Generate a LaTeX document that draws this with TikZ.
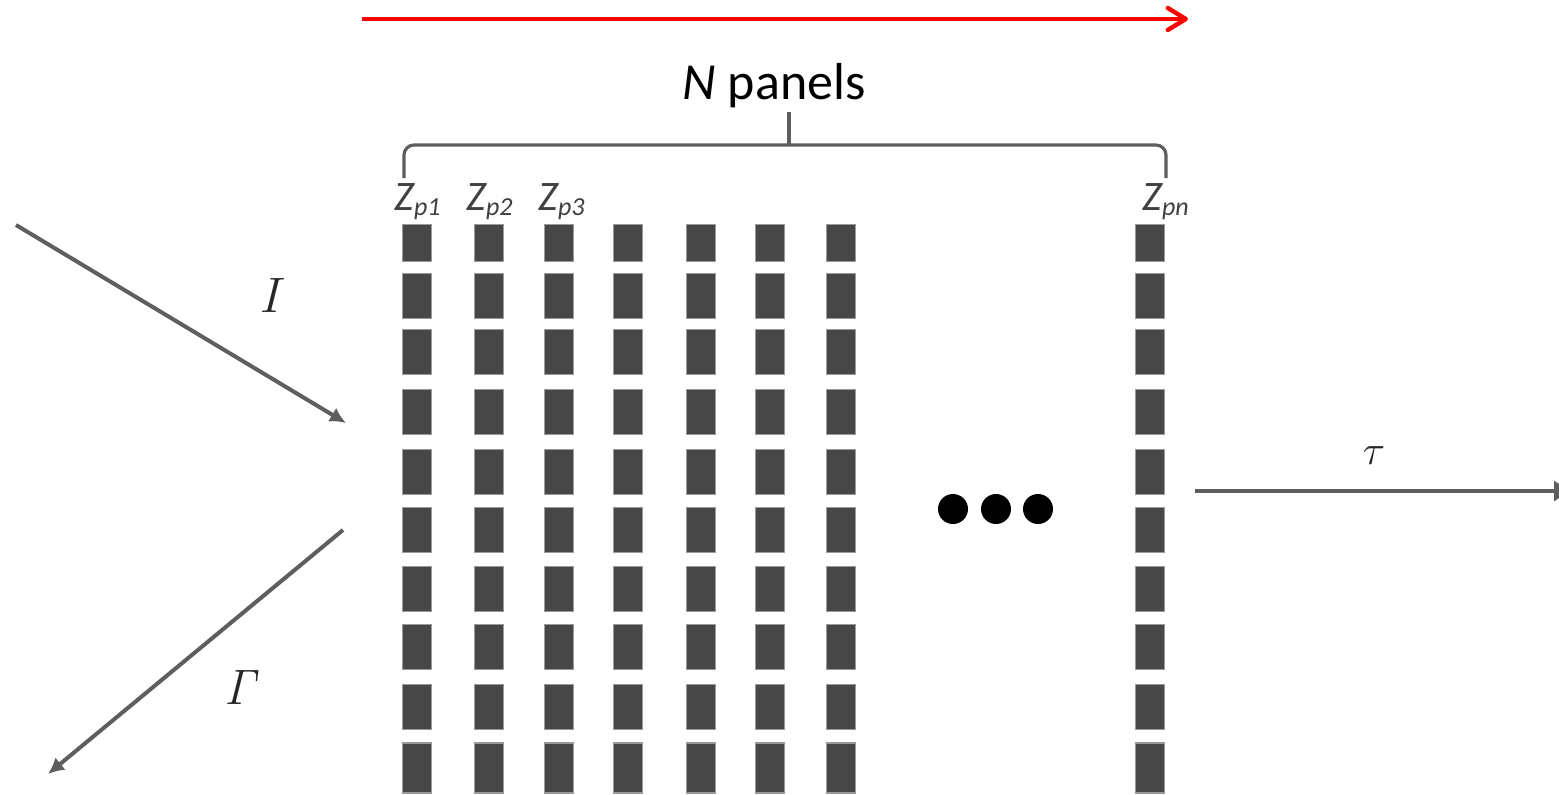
\documentclass[tikz,border=0pt]{standalone}
\usepackage[no-math]{fontspec}
\newfontfamily\calib{Carlito}
\usetikzlibrary{arrows.meta}
\definecolor{arrowgray}{HTML}{5E5E5E}
\definecolor{panelfill}{HTML}{474747}
\definecolor{paneledge}{HTML}{9A9A9A}
\begin{document}
\begin{tikzpicture}[x=0.5pt,y=-0.5pt,
  panel/.style={draw=paneledge, line width=0.9pt, fill=panelfill, minimum width=14.5pt, inner sep=0pt},
  grayarrow/.style={draw=arrowgray, line width=2pt, -{Latex[length=8pt,width=8pt]}},
  bracket/.style={draw=arrowgray, line width=1.6pt, rounded corners=5pt},
  zlabel/.style={anchor=base west, inner sep=0pt, text=black!75},
  dot/.style={circle, fill=black, minimum size=15pt, inner sep=0pt},
  mlabel/.style={inner sep=0pt, text=black!85}
]
\useasboundingbox (0,0) rectangle (1559,794);
\clip (0,0) rectangle (1559,794);

% panels
\foreach \c/\x in {1/417,2/489,3/559,4/628,5/701,6/770,7/841,n/1150}{
  \node[panel, minimum height=18.5pt] (p\c-1) at (\x,243) {};
  \foreach \r/\y in {2/296,3/352,4/412,5/472,6/530,7/589,8/647,9/707}{
    \node[panel, minimum height=22.5pt] (p\c-\r) at (\x,\y) {};
  }
  \node[panel, minimum height=25pt] (p\c-10) at (\x,768) {};
}

% dots
\node[dot] (d1) at (953,509) {};
\node[dot] (d2) at (996,509) {};
\node[dot] (d3) at (1038,509) {};

% Z labels
\node[zlabel] (z1) at (394,210) {\calib\itshape\fontsize{21}{24}\selectfont Z\raisebox{-2.5pt}{\fontsize{13}{14}\selectfont p1}};
\node[zlabel] (z2) at (466,210) {\calib\itshape\fontsize{21}{24}\selectfont Z\raisebox{-2.5pt}{\fontsize{13}{14}\selectfont p2}};
\node[zlabel] (z3) at (538,210) {\calib\itshape\fontsize{21}{24}\selectfont Z\raisebox{-2.5pt}{\fontsize{13}{14}\selectfont p3}};
\node[zlabel] (zn) at (1142,210) {\calib\itshape\fontsize{21}{24}\selectfont Z\raisebox{-2.5pt}{\fontsize{13}{14}\selectfont pn}};

% bracket
\coordinate (bl) at (404,178);
\coordinate (br) at (1166,178);
\coordinate (bm) at (789,145);
\coordinate (bt) at (789,112);
\draw[bracket] (bl) -- (404,145) -- (1166,145) -- (br);
\draw[draw=arrowgray, line width=1.6pt] (bm) -- (bt);
\node[anchor=base, inner sep=0pt] (np) at (774,99) {\calib\fontsize{26}{30}\selectfont\textit{N} panels};

% red arrow
\coordinate (rs) at (362,19);
\coordinate (re) at (1188,19);
\draw[red, line width=2.2pt, -{Straight Barb[length=9pt,width=11pt,line cap=round,round]}] (rs) -- (re);

% incident
\coordinate (is) at (16,225);
\coordinate (ie) at (346,423);
\draw[grayarrow] (is) -- (ie);
\node[mlabel] (il) at (273,295) {\fontsize{26}{30}\selectfont$I$};

% reflected
\coordinate (gs) at (343,530);
\coordinate (ge) at (48,774);
\draw[grayarrow] (gs) -- (ge);
\node[mlabel] (gl) at (243,687) {\fontsize{23}{28}\selectfont$\mathit{\Gamma}$};

% transmitted
\coordinate (ts) at (1195,491);
\coordinate (te) at (1574,491);
\draw[grayarrow, -{Latex[length=10pt,width=11pt]}] (ts) -- (te);
\node[mlabel] (tl) at (1374,456) {\fontsize{22}{26}\selectfont$\tau$};
\end{tikzpicture}
\end{document}
